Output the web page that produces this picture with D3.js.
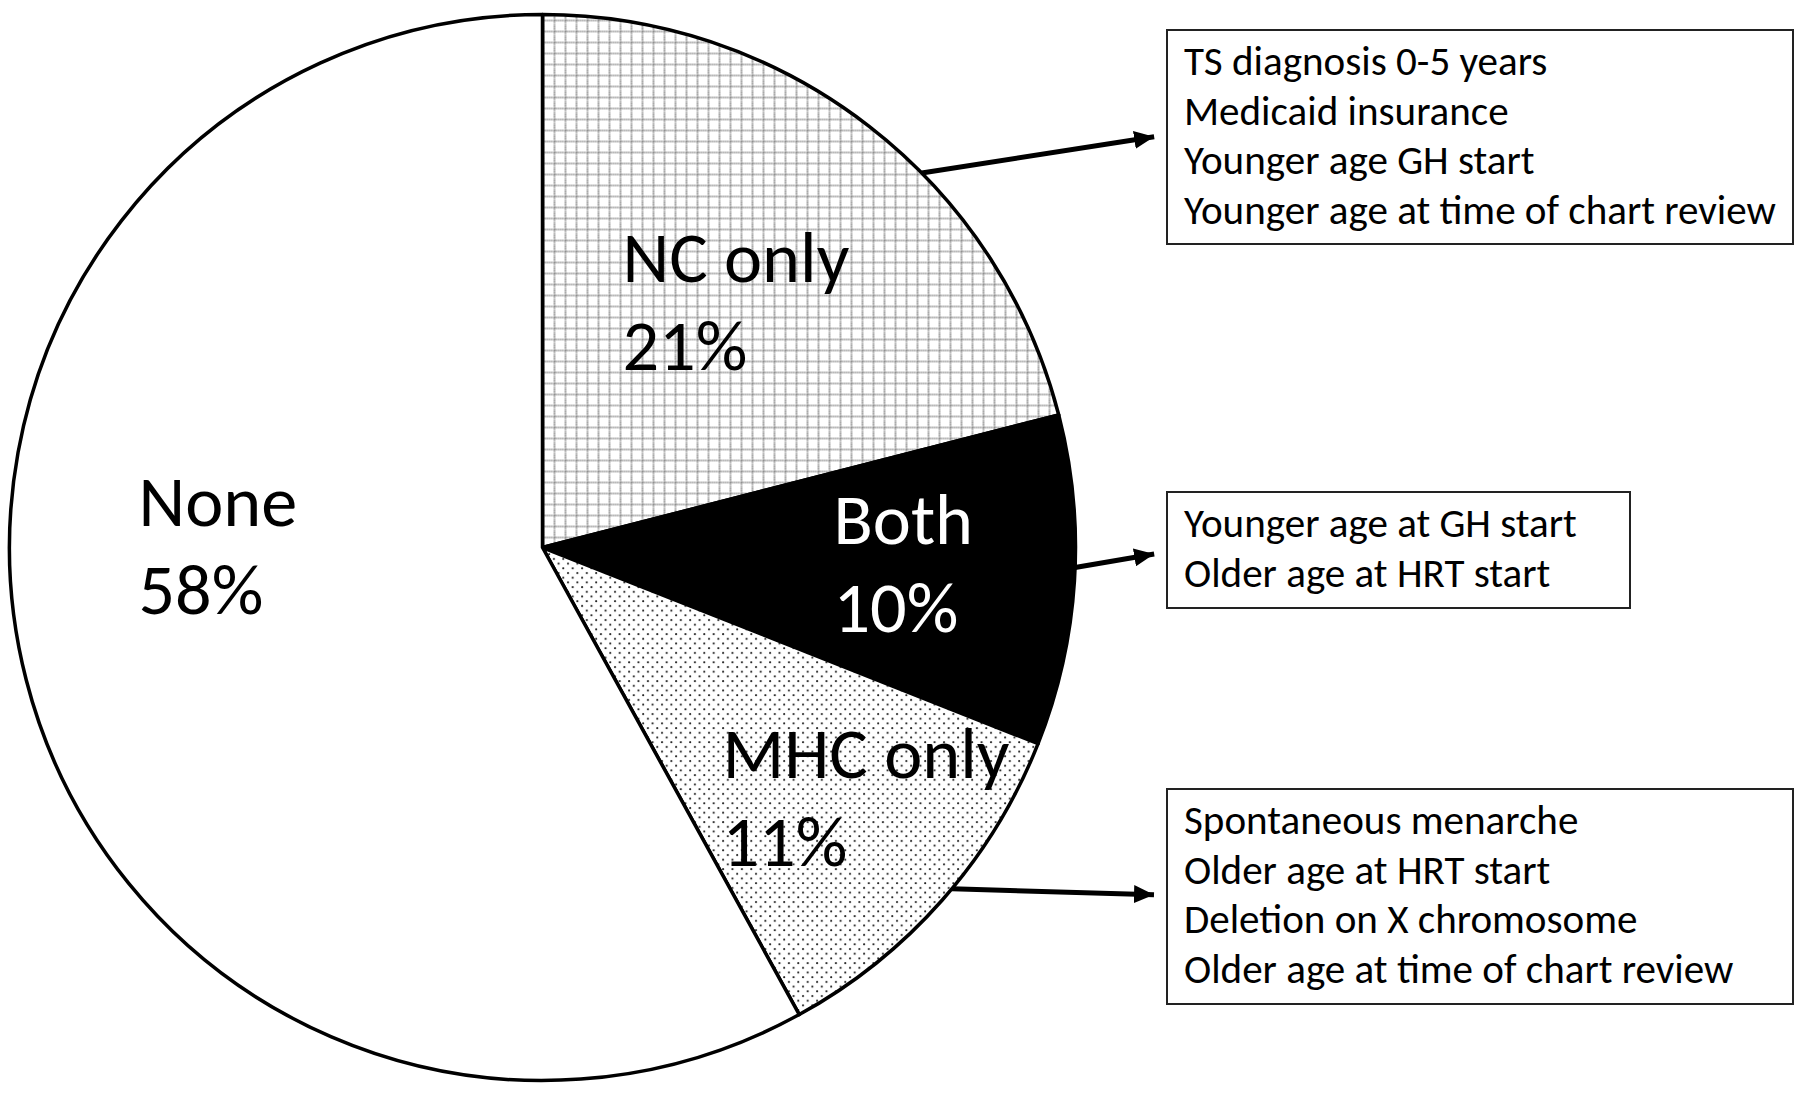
<!DOCTYPE html>
<html>
<head>
<meta charset="utf-8">
<script src="https://cdn.jsdelivr.net/npm/d3@7"></script>
<style>
  html, body { margin: 0; padding: 0; background: #fff; }
  svg { display: block; }
</style>
</head>
<body>
<svg id="chart"></svg>
<script>
// Slices, clockwise from 12 o'clock
var categories = ["NC only", "Both", "MHC only", "None"];
var percents = [21, 10, 11, 58];

// Findings listed in the boxes next to each group
var ncFindings = [
    "TS diagnosis 0-5 years",
    "Medicaid insurance",
    "Younger age GH start",
    "Younger age at time of chart review"
];
var bothFindings = [
    "Younger age at GH start",
    "Older age at HRT start"
];
var mhcFindings = [
    "Spontaneous menarche",
    "Older age at HRT start",
    "Deletion on X chromosome",
    "Older age at time of chart review"
];

// ---- layout / style ----
var width = 1800, height = 1095;
var cx = 542.5, cy = 547.5, radius = 533;
var fontFamily = "Carlito, Calibri, Lato, 'Noto Sans', sans-serif";

var sliceFill = {
    "NC only": "url(#grid)",
    "Both": "#000",
    "MHC only": "url(#dots)",
    "None": "#fff"
};

// left edge and first baseline of each label block, relative to the pie centre
var labelPos = {
    "NC only": [80, -266],
    "Both": [291, -4],
    "MHC only": [180, 230],
    "None": [-404, -22]
};
var labelLineHeight = 88;

var boxes = [
    { slice: "NC only", lines: ncFindings, x: 1167, y: 30, w: 626, h: 214, arrowY: 135, at: 0.60 },
    { slice: "Both", lines: bothFindings, x: 1167, y: 492, w: 463, h: 116, arrowY: 552, at: 0.46 },
    { slice: "MHC only", lines: mhcFindings, x: 1167, y: 789, w: 626, h: 215, arrowY: 895, at: 0.46 }
];
var boxFirstBaseline = 45, boxLineHeight = 49.5, boxPadLeft = 17;

var svg = d3.select("#chart")
    .attr("width", width)
    .attr("height", height);

svg.append("rect")
    .attr("width", width)
    .attr("height", height)
    .attr("fill", "#fff");

/**
 * Font size that makes the sample string as wide as target
 */
function fitFontSize(sample, target) {
    var t = svg.append("text")
        .style("font-family", fontFamily)
        .style("font-size", "100px")
        .text(sample);
    var w = t.node().getComputedTextLength();
    t.remove();
    return 100 * target / w;
}

var labelSize = fitFontSize("MHC only", 287);
var boxSize = fitFontSize("Younger age at time of chart review", 592);

// Fill patterns
var defs = svg.append("defs");

var grid = defs.append("pattern")
    .attr("id", "grid")
    .attr("patternUnits", "userSpaceOnUse")
    .attr("width", 11)
    .attr("height", 11);
grid.append("rect").attr("width", 11).attr("height", 11).attr("fill", "#fff");
grid.append("line")
    .attr("x1", 0).attr("y1", 1).attr("x2", 11).attr("y2", 1)
    .attr("stroke", "#555").attr("stroke-width", 1.6).attr("stroke-dasharray", "1.1,1.1");
grid.append("line")
    .attr("x1", 1).attr("y1", 0).attr("x2", 1).attr("y2", 11)
    .attr("stroke", "#555").attr("stroke-width", 1.6).attr("stroke-dasharray", "1.1,1.1");

var dots = defs.append("pattern")
    .attr("id", "dots")
    .attr("patternUnits", "userSpaceOnUse")
    .attr("width", 9.4)
    .attr("height", 9.4);
dots.append("rect").attr("width", 9.4).attr("height", 9.4).attr("fill", "#fff");
dots.append("circle").attr("cx", 2).attr("cy", 2).attr("r", 1.05).attr("fill", "#222");
dots.append("circle").attr("cx", 6.7).attr("cy", 6.7).attr("r", 1.05).attr("fill", "#222");

defs.append("marker")
    .attr("id", "head")
    .attr("markerUnits", "userSpaceOnUse")
    .attr("viewBox", "0 0 20 18")
    .attr("refX", 20)
    .attr("refY", 9)
    .attr("markerWidth", 20)
    .attr("markerHeight", 18)
    .attr("orient", "auto")
    .append("path")
    .attr("d", "M0,0L20,9L0,18Z")
    .attr("fill", "#000");

// Pie
var data = categories.map(function (c, i) { return { name: c, value: percents[i] }; });

var pie = d3.pie()
    .sort(null)
    .value(function (d) { return d.value; });

var arc = d3.arc()
    .innerRadius(0)
    .outerRadius(radius);

var arcs = pie(data);

var g = svg.append("g")
    .attr("transform", "translate(" + cx + "," + cy + ")");

g.selectAll(".slice")
    .data(arcs)
    .enter()
    .append("path")
    .attr("class", "slice")
    .attr("d", arc)
    .attr("fill", function (d) { return sliceFill[d.data.name]; })
    .attr("stroke", "#000")
    .attr("stroke-width", 3.5)
    .attr("stroke-linejoin", "round");

// Slice labels: name, then percentage
var labels = g.selectAll(".label")
    .data(arcs)
    .enter()
    .append("text")
    .attr("class", "label")
    .attr("x", function (d) { return labelPos[d.data.name][0]; })
    .attr("y", function (d) { return labelPos[d.data.name][1]; })
    .style("font-family", fontFamily)
    .style("font-size", labelSize + "px")
    .style("fill", function (d) { return d.data.name === "Both" ? "#fff" : "#000"; });

labels.append("tspan")
    .text(function (d) { return d.data.name; });

labels.append("tspan")
    .attr("x", function (d) { return labelPos[d.data.name][0]; })
    .attr("dy", labelLineHeight)
    .text(function (d) { return d.data.value + "%"; });

// Finding boxes
var byName = {};
arcs.forEach(function (a) { byName[a.data.name] = a; });

var boxGroups = svg.selectAll(".box")
    .data(boxes)
    .enter()
    .append("g")
    .attr("class", "box");

boxGroups.append("rect")
    .attr("x", function (d) { return d.x; })
    .attr("y", function (d) { return d.y; })
    .attr("width", function (d) { return d.w; })
    .attr("height", function (d) { return d.h; })
    .attr("fill", "#fff")
    .attr("stroke", "#222")
    .attr("stroke-width", 2);

boxGroups.each(function (d) {
    d3.select(this).selectAll("text")
        .data(d.lines)
        .enter()
        .append("text")
        .attr("x", d.x + boxPadLeft)
        .attr("y", function (line, i) { return d.y + boxFirstBaseline + i * boxLineHeight; })
        .style("font-family", fontFamily)
        .style("font-size", boxSize + "px")
        .style("fill", "#000")
        .text(function (line) { return line; });
});

// Arrows from the pie edge to each box
boxGroups.append("line")
    .each(function (d) {
        var a = byName[d.slice];
        var ang = a.startAngle + d.at * (a.endAngle - a.startAngle);
        var x1 = cx + radius * Math.sin(ang);
        var y1 = cy - radius * Math.cos(ang);
        var x2 = d.x - 1, y2 = d.arrowY;
        var len = Math.hypot(x2 - x1, y2 - y1);
        // stop the shaft inside the head so it does not poke out of the tip
        var k = (len - 12) / len;
        d3.select(this)
            .attr("x1", x1).attr("y1", y1)
            .attr("x2", x1 + (x2 - x1) * k)
            .attr("y2", y1 + (y2 - y1) * k);
    })
    .attr("stroke", "#000")
    .attr("stroke-width", 5)
    .attr("marker-end", "url(#head)");
</script>
</body>
</html>
